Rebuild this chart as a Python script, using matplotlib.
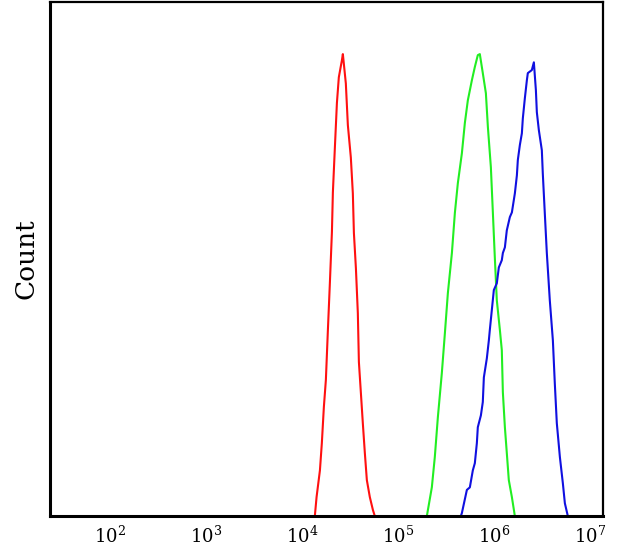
## Import Libraries

import matplotlib
matplotlib.use("Agg")
import numpy as np
import matplotlib.pyplot as plt

## Data (log10 of fluorescence, count)

red_log = [4.135, 4.153, 4.188, 4.208, 4.229, 4.25, 4.271, 4.292, 4.313, 4.323,
           4.344, 4.365, 4.385, 4.417, 4.427, 4.458, 4.479, 4.51, 4.531, 4.542,
           4.563, 4.583, 4.594, 4.615, 4.635, 4.656, 4.677, 4.708, 4.74, 4.76]
red_count = [0, 3.7, 8.9, 14.2, 21.2, 26.5, 36.2, 45.5, 55.3, 63.0,
             71.8, 80.4, 85.4, 88.7, 89.9, 84.2, 76.1, 69.8, 62.8, 55.1,
             48.2, 39.5, 30.0, 23.9, 18.1, 12.3, 7.0, 3.7, 1.2, 0]

green_log = [5.302, 5.354, 5.385, 5.417, 5.458, 5.49, 5.521, 5.563, 5.594, 5.625,
             5.667, 5.698, 5.729, 5.771, 5.802, 5.833, 5.854, 5.885, 5.917, 5.938,
             5.969, 5.99, 6.01, 6.031, 6.063, 6.083, 6.094, 6.115, 6.135,
             6.156, 6.188, 6.219]
green_count = [0, 5.6, 11.5, 19.3, 27.8, 35.6, 43.4, 51.2, 59.0, 64.8,
               70.6, 76.5, 80.9, 84.8, 87.4, 89.7, 89.9, 86.2, 82.3, 75.7,
               67.9, 59.0, 50.4, 42.0, 36.2, 32.3, 24.1, 17.3, 12.3,
               7.0, 3.7, 0]

blue_log = [5.573, 5.656, 5.667, 5.719, 5.75, 5.781, 5.802, 5.823, 5.833, 5.865,
            5.885, 5.896, 5.927, 5.948, 5.958, 5.979, 6.0, 6.031, 6.052, 6.083,
            6.094, 6.115, 6.135, 6.167, 6.188, 6.219, 6.24, 6.25, 6.271, 6.292,
            6.302, 6.323, 6.344, 6.354, 6.396, 6.417, 6.438, 6.448, 6.469, 6.5,
            6.51, 6.531, 6.552, 6.583, 6.615, 6.635, 6.656, 6.688, 6.719, 6.74,
            6.771]
blue_count = [0, 0, 0.6, 5.1, 5.6, 8.9, 10.3, 14.2, 17.3, 19.6,
              22.2, 27.0, 30.7, 34.2, 36.2, 40.1, 44.0, 45.3, 48.4, 49.8,
              51.2, 52.3, 55.6, 58.2, 59.1, 62.8, 66.3, 69.3, 72.2, 74.5,
              77.4, 81.3, 84.8, 86.2, 86.8, 88.3, 82.9, 78.6, 75.1, 71.2,
              66.7, 58.9, 51.2, 42.0, 34.2, 25.9, 18.1, 11.5, 6.4, 2.5,
              0]

tick_exp = [2, 3, 4, 5, 6, 7]

## Plot

plt.rcParams["font.family"] = ["DejaVu Serif"]
plt.rcParams["mathtext.fontset"] = "dejavuserif"

fig = plt.figure(figsize=(6.24, 5.52), dpi=100)
ax = fig.add_axes([0.080, 0.065, 0.886, 0.931])

ax.plot(10 ** np.array(red_log), red_count, color="#ff1010", lw=1.5)
ax.plot(10 ** np.array(green_log), green_count, color="#22ee22", lw=1.5)
ax.plot(10 ** np.array(blue_log), blue_count, color="#1010e0", lw=1.5)

ax.set_xscale("log")
ax.set_xlim(10 ** 1.375, 10 ** 7.135)
ax.set_ylim(0, 100)

ax.set_xticks([10.0 ** e for e in tick_exp])
ax.set_xticklabels([r"$10^{%d}$" % e for e in tick_exp], fontsize=13)
ax.xaxis.set_minor_locator(matplotlib.ticker.NullLocator())
ax.tick_params(axis="x", length=0, pad=7)
ax.set_yticks([])
ax.set_ylabel("Count", fontsize=19, labelpad=8)

for s in ax.spines.values():
    s.set_linewidth(1.6)
ax.spines["left"].set_linewidth(2.2)
ax.spines["bottom"].set_linewidth(2.2)

fig.savefig("out.png", dpi=100)
